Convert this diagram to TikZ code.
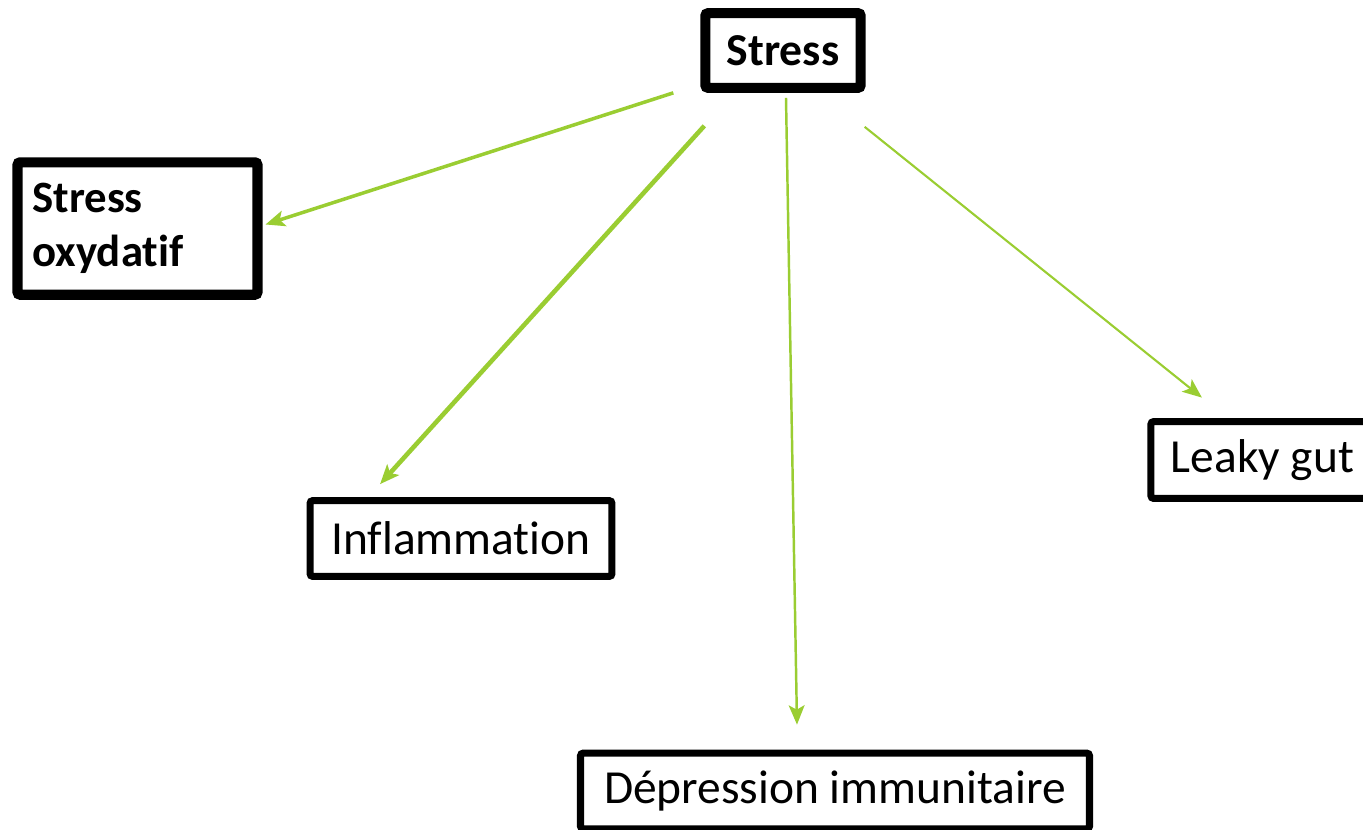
\documentclass[tikz,border=0pt]{standalone}
\usepackage{fontspec}
\setmainfont{Carlito}[RawFeature=-liga]
\usepackage{tikz}
\usetikzlibrary{arrows.meta,positioning}
\definecolor{arrowgreen}{RGB}{154,205,50}
\tikzset{
    %Define standard arrow tip
    >={Stealth[length=11pt,width=9pt,inset=2.5pt]},
    %Define style for boxes
    boldbox/.style={
           rectangle,
           rounded corners=1.5pt,
           draw=black, line width=5.7pt,
           inner sep=0pt,
           font=\fontsize{26}{31}\selectfont\bfseries},
    plainbox/.style={
           rectangle,
           rounded corners=1.5pt,
           draw=black, line width=4pt,
           inner sep=0pt,
           font=\fontsize{27}{32}\selectfont},
    % Define arrow style
    pil/.style={
           ->,
           draw=arrowgreen,
           fill=arrowgreen}
}
\begin{document}
\begin{tikzpicture}[x=0.02cm,y=-0.02cm]
\useasboundingbox (0,0) rectangle (1363,829);
\node[boldbox, minimum width=88.4pt, minimum height=42.5pt] (1) at (783,50.5) {Stress};
\node[boldbox, text width=119.6pt, inner xsep=8.5pt, minimum height=75.4pt, align=left,
      font=\fontsize{25.5}{31}\selectfont\bfseries] (2) at (137.5,228.5) {Stress\\oxydatif};
\node[plainbox, minimum width=171.8pt, minimum height=43.1pt] (3) at (461,538.5) {Inflammation};
\node[plainbox, minimum width=127pt, minimum height=43.7pt] (4) at (1262.5,460) {Leaky gut};
\node[plainbox, minimum width=289.7pt, minimum height=43.1pt] (5) at (835,791) {Dépression immunitaire};

\draw[pil, line width=2pt] ([shift={(-27,0)}]1.south west) -- ([shift={(3,-4)}]2.east);
\draw[pil, line width=2.6pt] ([shift={(4,33)}]1.south west) -- ([shift={(73.5,-13)}]3.north west);
\draw[pil, line width=1.4pt] ([shift={(3,5)}]1.south) -- ([shift={(-38,-25)}]5.north);
\draw[pil, line width=1.2pt] ([shift={(-1,34)}]1.south east) -- ([shift={(54.5,-20.5)}]4.north west);
\end{tikzpicture}
\end{document}
